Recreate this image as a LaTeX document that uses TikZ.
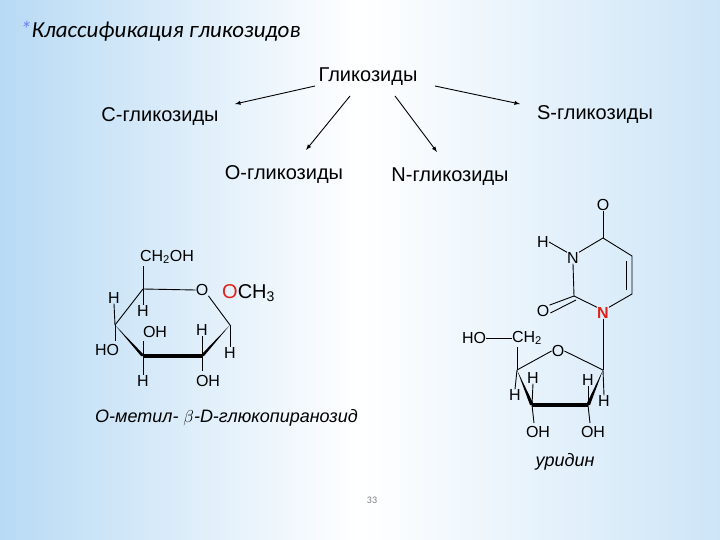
\documentclass[tikz,border=0pt]{standalone}
\usepackage{fontspec}
\usetikzlibrary{calc}
\setmainfont{Liberation Sans}
\newfontfamily\titlefont{Carlito}
\definecolor{bgb}{HTML}{B8DAF4}
\definecolor{redN}{HTML}{E0201B}
\begin{document}
\begin{tikzpicture}[x=1pt,y=-1pt,
  lbl/.style={inner sep=0pt,font=\fontsize{20}{20}\selectfont},
  sm/.style={inner sep=0pt,font=\fontsize{16}{16}\selectfont},
  bnd/.style={line width=0.9pt},
  bold/.style={line width=3.5pt},
  arr/.style={-latex,line width=0.9pt}]
\shade[left color=bgb,right color=bgb!70,middle color=white] (0,0) rectangle (720,540);
\useasboundingbox (0,0) rectangle (720,540);
% title
\node[anchor=west,inner sep=0pt,font=\titlefont\itshape\fontsize{23}{23}\selectfont] (title) at (20,31) {\textcolor{bgb!60!blue}{*}Классификация гликозидов};
% tree
\node[lbl] (g) at (368,77) {Гликозиды};
\node[lbl] (c) at (160,117) {С-гликозиды};
\node[lbl] (s) at (595,115) {S-гликозиды};
\node[lbl] (o) at (284,175) {О-гликозиды};
\node[lbl] (n) at (450,177) {N-гликозиды};
\coordinate (a1) at (315,86); \coordinate (b1) at (235,104);
\coordinate (a2) at (350,96); \coordinate (b2) at (306,150);
\coordinate (a3) at (395,96); \coordinate (b3) at (437,152);
\coordinate (a4) at (435,86); \coordinate (b4) at (520,104);
\draw[arr] (a1) -- (b1); \draw[arr] (a2) -- (b2);
\draw[arr] (a3) -- (b3); \draw[arr] (a4) -- (b4);
% pyranose
\coordinate (C5) at (143,289); \coordinate (C4) at (115,325);
\coordinate (C3) at (143,356); \coordinate (C2) at (202,356);
\coordinate (C1) at (230,325);
\node[sm] (O5) at (202,290) {O};
\draw[bnd] (C5) -- (O5.west); \draw[bnd] (O5.south east) -- (C1);
\draw[bnd] (C5) -- (C4);
\fill (C4) -- ($(C3)+(-2,0)$) -- ($(C3)+(2,0)$) -- cycle;
\draw[bold] (C3) -- (C2);
\fill (C1) -- ($(C2)+(-2,0)$) -- ($(C2)+(2,0)$) -- cycle;
\node[sm] (ch2oh) at (167,257) {CH\textsubscript{2}OH};
\draw[bnd] (C5) -- (143,266);
\node[sm] (h5) at (143,311) {H}; \draw[bnd] (C5) -- (h5.north);
\node[sm] (h4) at (114,298) {H}; \draw[bnd] (C4) -- (h4.south);
\node[sm] (ho4) at (107,350) {HO}; \draw[bnd] (C4) -- (115,341);
\node[sm] (oh3) at (155,332) {OH}; \draw[bnd] (C3) -- (143,341);
\node[sm] (h3) at (143,381) {H}; \draw[bnd] (C3) -- (h3.north);
\node[sm] (h2) at (202,330) {H}; \draw[bnd] (C2) -- (h2.south);
\node[sm] (oh2) at (208,381) {OH}; \draw[bnd] (C2) -- (202,371);
\node[sm] (h1) at (230,353) {H}; \draw[bnd] (C1) -- (h1.north);
\node[lbl,anchor=west] (och3) at (222,293) {\textcolor{redN}{O}CH\textsubscript{3}};
\node[lbl,anchor=west,font=\itshape\fontsize{18}{18}\selectfont] (name1) at (95,418) {О-метил- $\beta$-D-глюкопиранозид};
% uridine
\coordinate (N1) at (603,313); \coordinate (U2) at (574,296);
\coordinate (U4) at (603,238); \coordinate (U5) at (632,256);
\coordinate (U6) at (632,294);
\node[sm,text=redN,font=\bfseries\fontsize{16}{16}\selectfont] (n1) at (603,313) {N};
\node[sm] (n3) at (573,258) {N};
\node[sm] (o4) at (603,205) {O};
\node[sm] (o2) at (543,311) {O};
\node[sm] (hn) at (543,242) {H};
\draw[bnd] (hn.east) -- (n3.north west);
\draw[bnd] (n3.south) -- (U2) -- (n1.north west);
\draw[bnd] (n3.north east) -- (U4) -- (U5) -- (U6) -- (n1.north east);
\draw[bnd] (626,261) -- (626,290);
\draw[bnd] (U4) -- (o4.south);
\draw[bnd] (U2) -- (o2.north east);
\draw[bnd] ($(U2)+(2,4)$) -- ($(o2.east)+(1,2)$);
\coordinate (C1p) at (603,370); \coordinate (C4p) at (517,370);
\coordinate (C3p) at (532,405); \coordinate (C2p) at (588,405);
\node[sm] (o4p) at (558,351) {O};
\draw[bnd] (n1.south) -- (C1p);
\draw[bnd] (C4p) -- (o4p.west); \draw[bnd] (o4p.east) -- (C1p);
\fill (C4p) -- ($(C3p)+(-2,0)$) -- ($(C3p)+(2,0)$) -- cycle;
\draw[bold] (C3p) -- (C2p);
\fill (C1p) -- ($(C2p)+(-2,0)$) -- ($(C2p)+(2,0)$) -- cycle;
\node[sm] (ho5) at (474,338) {HO};
\node[sm] (ch2) at (527,338) {CH\textsubscript{2}};
\draw[bnd] (ho5.east) -- (ch2.west);
\draw[bnd] (C4p) -- (517,347);
\node[sm] (h4p) at (515,395) {H}; \draw[bnd] (C4p) -- (h4p.north);
\node[sm] (h3p) at (533,378) {H}; \draw[bnd] (C3p) -- (h3p.south);
\node[sm] (oh3p) at (538,432) {OH}; \draw[bnd] (C3p) -- (534,423);
\node[sm] (h2p) at (588,380) {H}; \draw[bnd] (C2p) -- (h2p.south);
\node[sm] (oh2p) at (593,432) {OH}; \draw[bnd] (C2p) -- (590,423);
\node[sm] (h1p) at (604,401) {H}; \draw[bnd] (C1p) -- (h1p.north);
\node[lbl,font=\itshape\fontsize{18}{18}\selectfont] (name2) at (565,462) {уридин};
\node[inner sep=0pt,font=\titlefont\fontsize{10}{10}\selectfont,text=gray] (pg) at (372,500) {33};
\end{tikzpicture}
\end{document}
